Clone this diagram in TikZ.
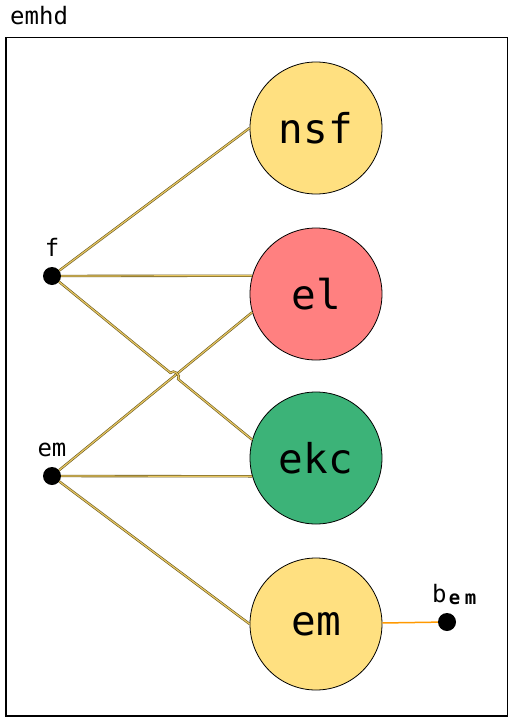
\documentclass[tikz,border=0pt]{standalone}
\usepackage{fontspec}
\setmonofont{DejaVu Sans Mono}
\usetikzlibrary{calc}
\definecolor{linedark}{RGB}{105,88,28}
\definecolor{linegold}{RGB}{230,198,98}
\definecolor{cyellow}{RGB}{255,224,128}
\definecolor{cred}{RGB}{255,128,128}
\definecolor{cgreen}{RGB}{60,179,120}
\definecolor{corange}{RGB}{255,153,0}
\begin{document}
\begin{tikzpicture}[x=1pt,y=-1pt,
  conn/.style={draw=linedark, double=linegold, line width=0.6pt, double distance=1.2pt},
  ball/.style={circle, draw=black, line width=0.8pt, minimum size=132pt, inner sep=0pt, font=\fontsize{41}{41}\selectfont\ttfamily},
  dot/.style={circle, fill=black, minimum size=18pt, inner sep=0pt},
  lbl/.style={font=\fontsize{24}{24}\selectfont\ttfamily, inner sep=0pt}]
\useasboundingbox (0,0) rectangle (508,717);
\node[draw, line width=1.5pt, minimum width=502pt, minimum height=678pt, inner sep=0pt, anchor=north west] (frame) at (5,37) {};
\node[lbl, anchor=base west] (title) at (10,25) {emhd};
\node[ball, fill=cyellow] (nsf) at (316,128) {nsf};
\node[ball, fill=cred] (el) at (316,294) {el};
\node[ball, fill=cgreen] (ekc) at (316,458) {ekc};
\node[ball, fill=cyellow] (emc) at (316,624) {em};
\node[dot] (f) at (52,276) {};
\node[dot] (em) at (52,476) {};
\node[dot] (bem) at (447,622) {};
\node[lbl, anchor=base] (flbl) at (52,256) {f};
\node[lbl, anchor=base] (emlbl) at (52,456) {em};
\node[lbl, anchor=base west] (bemlbl) at (432,602) {b\raisebox{-2pt}{\fontsize{19}{19}\selectfont\bfseries\makebox[16pt]{e}\makebox[16pt]{m}}};
\draw[conn] (f) -- (nsf.west);
\draw[conn] (f) -- (el.164);
\draw[conn] (em) -- (el.196);
\draw[conn] (em) -- (ekc.196);
\draw[conn] (em) -- (emc.west);
\coordinate (X) at (intersection of f--ekc.164 and em--el.196);
\coordinate (hA) at ($(X)!5pt!(f)$);
\coordinate (hB) at ($(X)!5pt!(ekc.164)$);
\draw[conn] (f) -- (hA) to[bend left=90, looseness=1.3] (hB) -- (ekc.164);
\draw[corange, line width=1.5pt] (emc) -- (bem);
\end{tikzpicture}
\end{document}
